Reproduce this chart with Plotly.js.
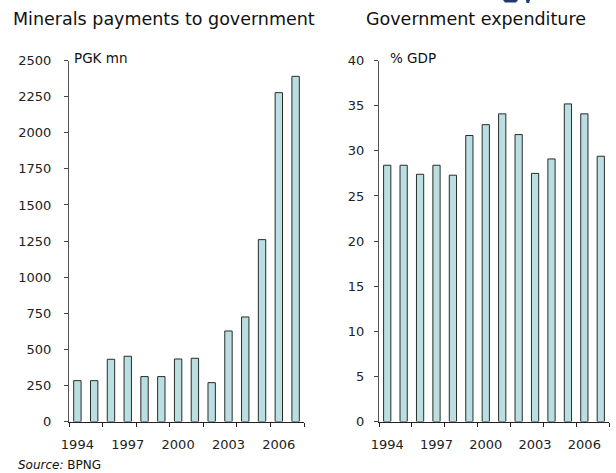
<!DOCTYPE html>
<html>
<head>
<meta charset="utf-8">
<script src="https://cdn.plot.ly/plotly-3.0.1.min.js"></script>
<style>html,body{margin:0;padding:0;background:#fff;}#chart{width:616px;height:473px;}</style>
</head>
<body>
<div id="chart"></div>
<script>
// ---- data ----
const years = [1994,1995,1996,1997,1998,1999,2000,2001,2002,2003,2004,2005,2006,2007];
const mineralsPGKmn = [283,283,431,452,311,311,433,438,269,627,724,1260,2278,2391];
const expenditurePctGDP = [28.4,28.4,27.4,28.4,27.3,31.7,32.9,34.1,31.8,27.5,29.1,35.2,34.1,29.4];
const yearLabels = [1994,1997,2000,2003,2006];
const yearBoundaries = [1993.5,1995.5,1997.5,1999.5,2001.5,2003.5,2005.5,2007.5];

const W = 616, H = 473;
const px = x => x / W;
const py = y => 1 - y / H;
const FONT = "DejaVu Sans, Verdana, sans-serif";

const barStyle = {
  type: 'bar',
  width: 0.44,
  marker: {color: '#b9dfe3', line: {color: '#2a2a2a', width: 1}},
  hoverinfo: 'x+y'
};

const traces = [
  Object.assign({}, barStyle, {x: years, y: mineralsPGKmn, xaxis: 'x', yaxis: 'y', name: 'Minerals'}),
  Object.assign({}, barStyle, {x: years, y: expenditurePctGDP, xaxis: 'x2', yaxis: 'y2', name: 'Expenditure'})
];

function xAxis(domain) {
  return {
    domain: domain,
    range: [1993.5, 2007.5],
    tickmode: 'array',
    tickvals: yearLabels,
    ticks: '',
    ticklabelstandoff: 11,
    tickfont: {family: FONT, size: 13, color: '#222'},
    showline: true, linecolor: '#222', linewidth: 1,
    showgrid: false, zeroline: false, fixedrange: true,
    minor: {tickmode: 'array', tickvals: yearBoundaries, ticks: 'outside', ticklen: 4, tickwidth: 1, tickcolor: '#222', showgrid: false}
  };
}
function yAxis(domain, max, step, standoff, anchor) {
  return {
    domain: domain,
    anchor: anchor,
    range: [0, max],
    tickmode: 'linear', tick0: 0, dtick: step,
    ticks: 'outside', ticklen: 4, tickwidth: 1, tickcolor: '#444',
    ticklabelstandoff: standoff,
    tickfont: {family: FONT, size: 13, color: '#222'},
    showline: true, linecolor: '#555', linewidth: 1,
    showgrid: false, zeroline: false, fixedrange: true
  };
}

const yDom = [py(421.5), py(60.6)];
const layout = {
  width: W, height: H,
  margin: {l: 0, r: 0, t: 0, b: 0},
  paper_bgcolor: '#fff', plot_bgcolor: '#fff',
  showlegend: false,
  bargap: 0,
  xaxis: Object.assign(xAxis([px(69), px(304)]), {anchor: 'y'}),
  yaxis: yAxis(yDom, 2500, 250, 10, 'x'),
  xaxis2: Object.assign(xAxis([px(379), px(609)]), {anchor: 'y2'}),
  yaxis2: yAxis(yDom, 40, 5, 7, 'x2'),
  shapes: [
    {type: 'path', xref: 'paper', yref: 'paper', path: `M ${px(503)} ${py(0)} L ${px(518)} ${py(0)} L ${px(516)} ${py(2.5)} L ${px(505)} ${py(2.5)} Z`, fillcolor: '#1f3a6e', line: {width: 0}},
    {type: 'path', xref: 'paper', yref: 'paper', path: `M ${px(526)} ${py(0)} L ${px(530)} ${py(0)} L ${px(529)} ${py(3)} L ${px(526.5)} ${py(3)} Z`, fillcolor: '#1f3a6e', line: {width: 0}}
  ],
  annotations: [
    {text: 'Minerals payments to government', x: px(163.5), y: py(19), xref: 'paper', yref: 'paper', xanchor: 'center', yanchor: 'middle', showarrow: false, font: {family: FONT, size: 17.5, color: '#111'}},
    {text: 'Government expenditure', x: px(476), y: py(19), xref: 'paper', yref: 'paper', xanchor: 'center', yanchor: 'middle', showarrow: false, font: {family: FONT, size: 17.5, color: '#111'}},
    {text: 'PGK mn', x: px(72), y: py(58), xref: 'paper', yref: 'paper', xanchor: 'left', yanchor: 'middle', showarrow: false, font: {family: FONT, size: 13.5, color: '#111'}},
    {text: '% GDP', x: px(388), y: py(58), xref: 'paper', yref: 'paper', xanchor: 'left', yanchor: 'middle', showarrow: false, font: {family: FONT, size: 13.5, color: '#111'}},
    {text: '<i>Source:</i> BPNG', x: px(16), y: py(465), xref: 'paper', yref: 'paper', xanchor: 'left', yanchor: 'middle', showarrow: false, font: {family: FONT, size: 12, color: '#111'}}
  ]
};

Plotly.newPlot('chart', traces, layout, {staticPlot: true, displayModeBar: false});
</script>
</body>
</html>
